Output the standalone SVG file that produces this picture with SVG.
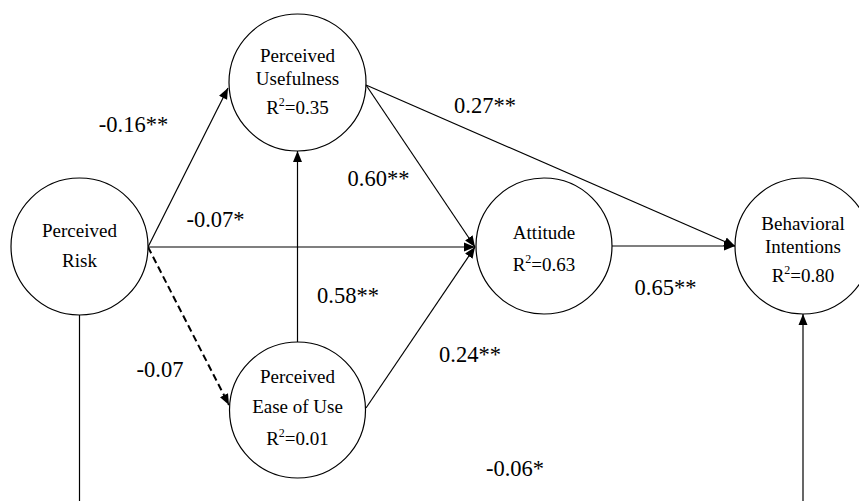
<svg xmlns="http://www.w3.org/2000/svg" width="859" height="501" viewBox="0 0 859 501">
<style>
.node circle{fill:#fff;stroke:#000;stroke-width:1.2}
.nt{font-family:"Liberation Serif","Times New Roman",serif;font-size:19px;fill:#000;text-anchor:middle}
.sup{font-size:12px}
.lbl{font-family:"Liberation Serif","Times New Roman",serif;font-size:22.5px;fill:#000;text-anchor:middle}
.c{stroke:#000;stroke-width:1.2;fill:none}
.a{marker-end:url(#arr)}
.d{stroke-width:2;stroke-dasharray:7,4}
</style>
<defs>
<marker id="arr" markerUnits="userSpaceOnUse" markerWidth="12" markerHeight="10" refX="11" refY="5" orient="auto">
<path d="M0,0.5 L11,5 L0,9.5 z" fill="#000"/>
</marker>
</defs>
<rect width="859" height="501" fill="#fff"/>
<g id="connectors">
<path class="c a" d="M148,247 L228,88"/>
<path class="c a" d="M148,247 L475,247"/>
<path class="c a d" d="M148,247 L229,405"/>
<path class="c a" d="M297.5,342 L297.5,151"/>
<path class="c a" d="M366,85 L475,247"/>
<path class="c a" d="M366,408 L475,247"/>
<path class="c a" d="M366,85 L735,246"/>
<path class="c a" d="M612,246 L735,246"/>
<path class="c" d="M79.5,315 L79.5,501"/>
<path class="c a" d="M803,501 L803,314"/>
</g>
<g id="node-perceived-risk" class="node">
<circle cx="79.5" cy="246.5" r="68.5"/>
<text class="nt" x="79.5" y="237">Perceived</text>
<text class="nt" x="79.5" y="267">Risk</text>
</g>
<g id="node-perceived-usefulness" class="node">
<circle cx="297.5" cy="82.5" r="68.5"/>
<text class="nt" x="297.5" y="62">Perceived</text>
<text class="nt" x="297.5" y="84.5">Usefulness</text>
<text class="nt" x="297.5" y="114">R<tspan class="sup" dy="-8">2</tspan><tspan dy="8">=0.35</tspan></text>
</g>
<g id="node-attitude" class="node">
<circle cx="544" cy="246" r="68"/>
<text class="nt" x="544" y="239">Attitude</text>
<text class="nt" x="544" y="271">R<tspan class="sup" dy="-8">2</tspan><tspan dy="8">=0.63</tspan></text>
</g>
<g id="node-behavioral-intentions" class="node">
<circle cx="803" cy="246" r="68"/>
<text class="nt" x="803" y="230">Behavioral</text>
<text class="nt" x="803" y="253">Intentions</text>
<text class="nt" x="803" y="282">R<tspan class="sup" dy="-8">2</tspan><tspan dy="8">=0.80</tspan></text>
</g>
<g id="node-perceived-ease-of-use" class="node">
<circle cx="297.5" cy="410" r="68"/>
<text class="nt" x="297.5" y="383">Perceived</text>
<text class="nt" x="297.5" y="413">Ease of Use</text>
<text class="nt" x="297.5" y="445">R<tspan class="sup" dy="-8">2</tspan><tspan dy="8">=0.01</tspan></text>
</g>
<g id="labels">
<text class="lbl" x="133.5" y="132">-0.16**</text>
<text class="lbl" x="485" y="113">0.27**</text>
<text class="lbl" x="378.5" y="186">0.60**</text>
<text class="lbl" x="215.5" y="227">-0.07*</text>
<text class="lbl" x="348" y="303">0.58**</text>
<text class="lbl" x="665.5" y="295">0.65**</text>
<text class="lbl" x="470" y="362">0.24**</text>
<text class="lbl" x="160" y="377">-0.07</text>
<text class="lbl" x="515" y="476">-0.06*</text>
</g>
</svg>
